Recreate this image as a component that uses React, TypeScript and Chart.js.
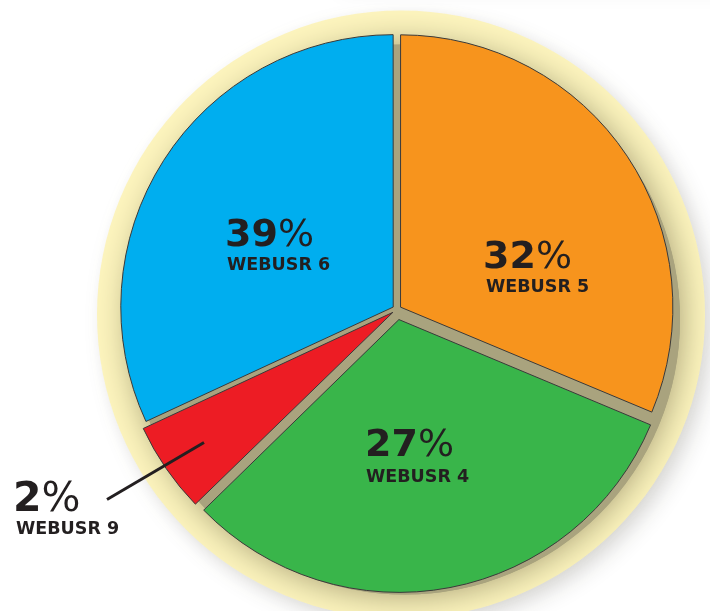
import React, { useEffect, useRef } from 'react';
import { Chart, registerables } from 'chart.js';

Chart.register(...registerables);

// Slices clockwise from 12 o'clock (sizes as drawn in the picture)
const userLabels = ['WEBUSR 5', 'WEBUSR 4', 'WEBUSR 9', 'WEBUSR 6'];
const sliceValues = [31.3, 31.4, 5.4, 31.9];
const pctLabels = ['32', '27', '2', '39'];
const sliceColors = ['#F7941D', '#39B54A', '#ED1C24', '#00AEEF'];

const TEXT = '#231F20';
const FONT = '"DejaVu Sans", sans-serif';

// label anchors (left, baseline) relative to the pie centre
const labelAnchors = [
  { dx: 86, dy: -42, size: 38, nameDx: 3, nameDy: 24.5 },
  { dx: -32, dy: 146, size: 38, nameDx: 1, nameDy: 26.5 },
  { dx: -384, dy: 201.5, size: 41, nameDx: 3, nameDy: 23 },
  { dx: -172, dy: -64, size: 38, nameDx: 2, nameDy: 24.5 },
];

const decorPlugin = {
  id: 'decor',
  beforeDatasetsDraw(chart: any) {
    const ctx: CanvasRenderingContext2D = chart.ctx;
    const arc = chart.getDatasetMeta(0).data[0];
    if (!arc) return;
    const { x, y, outerRadius } = arc.getProps(['x', 'y', 'outerRadius'], true);
    ctx.save();
    // faint grey band at the top right
    ctx.shadowColor = 'rgba(0,0,0,0.07)';
    ctx.shadowBlur = 24;
    ctx.shadowOffsetX = 0;
    ctx.shadowOffsetY = 250;
    ctx.fillStyle = '#ffffff';
    ctx.fillRect(340, -310, 800, 50);
    // pale yellow halo with soft grey shadow
    ctx.shadowColor = 'rgba(0,0,0,0.14)';
    ctx.shadowBlur = 22;
    ctx.shadowOffsetX = 8;
    ctx.shadowOffsetY = 8;
    ctx.fillStyle = '#FDF5BE';
    ctx.beginPath();
    ctx.arc(x + 4, y + 5, 304, 0, Math.PI * 2);
    ctx.fill();
    // khaki shadow of the pie on the halo
    ctx.shadowColor = 'rgba(160,153,112,1)';
    ctx.shadowBlur = 34;
    ctx.shadowOffsetX = 0;
    ctx.shadowOffsetY = 0;
    ctx.fillStyle = '#A9A37E';
    ctx.beginPath();
    ctx.arc(x + 8, y + 10, outerRadius + 3, 0, Math.PI * 2);
    ctx.fill();
    ctx.shadowColor = 'rgba(0,0,0,0)';
    ctx.shadowBlur = 0;
    ctx.beginPath();
    ctx.arc(x + 8, y + 10, outerRadius + 3, 0, Math.PI * 2);
    ctx.fill();
    ctx.restore();
  },
  afterDatasetsDraw(chart: any) {
    const ctx: CanvasRenderingContext2D = chart.ctx;
    const arc = chart.getDatasetMeta(0).data[0];
    if (!arc) return;
    const { x, y } = arc.getProps(['x', 'y'], true);
    ctx.save();
    // leader line for the small slice
    ctx.strokeStyle = TEXT;
    ctx.lineWidth = 3;
    ctx.beginPath();
    ctx.moveTo(x - 193, y + 133);
    ctx.lineTo(x - 290, y + 190);
    ctx.stroke();

    ctx.fillStyle = TEXT;
    ctx.textAlign = 'left';
    ctx.textBaseline = 'alphabetic';
    pctLabels.forEach((p, i) => {
      const a = labelAnchors[i];
      const lx = x + a.dx;
      const ly = y + a.dy;
      ctx.font = `bold ${a.size}px ${FONT}`;
      ctx.fillText(p, lx, ly);
      const w = ctx.measureText(p).width;
      ctx.font = `normal ${a.size}px ${FONT}`;
      ctx.fillText('%', lx + w, ly);
      ctx.font = `bold 17.5px ${FONT}`;
      ctx.fillText(userLabels[i], lx + a.nameDx, ly + a.nameDy);
    });
    ctx.restore();
  },
};

export default function App() {
  const ref = useRef<HTMLCanvasElement | null>(null);
  useEffect(() => {
    document.body.style.margin = '0';
    const canvas = ref.current;
    if (!canvas) return;
    const chart = new Chart(canvas, {
      type: 'pie',
      data: {
        labels: userLabels,
        datasets: [
          {
            data: sliceValues,
            backgroundColor: sliceColors,
            borderColor: '#3a3a3a',
            borderWidth: 1,
            offset: [17, 41, 20, 18],
            radius: 272,
          } as any,
        ],
      },
      options: {
        responsive: false,
        maintainAspectRatio: false,
        animation: false,
        events: [],
        layout: { padding: { left: 84, top: 8, right: 0, bottom: 0 } },
        plugins: {
          legend: { display: false },
          tooltip: { enabled: false },
        },
      },
      plugins: [decorPlugin],
    });
    return () => chart.destroy();
  }, []);
  return (
    <div style={{ position: 'fixed', left: 0, top: 0, width: 710, height: 611, background: '#fff' }}>
      <canvas ref={ref} width={710} height={611} style={{ width: 710, height: 611, display: 'block' }} />
    </div>
  );
}
